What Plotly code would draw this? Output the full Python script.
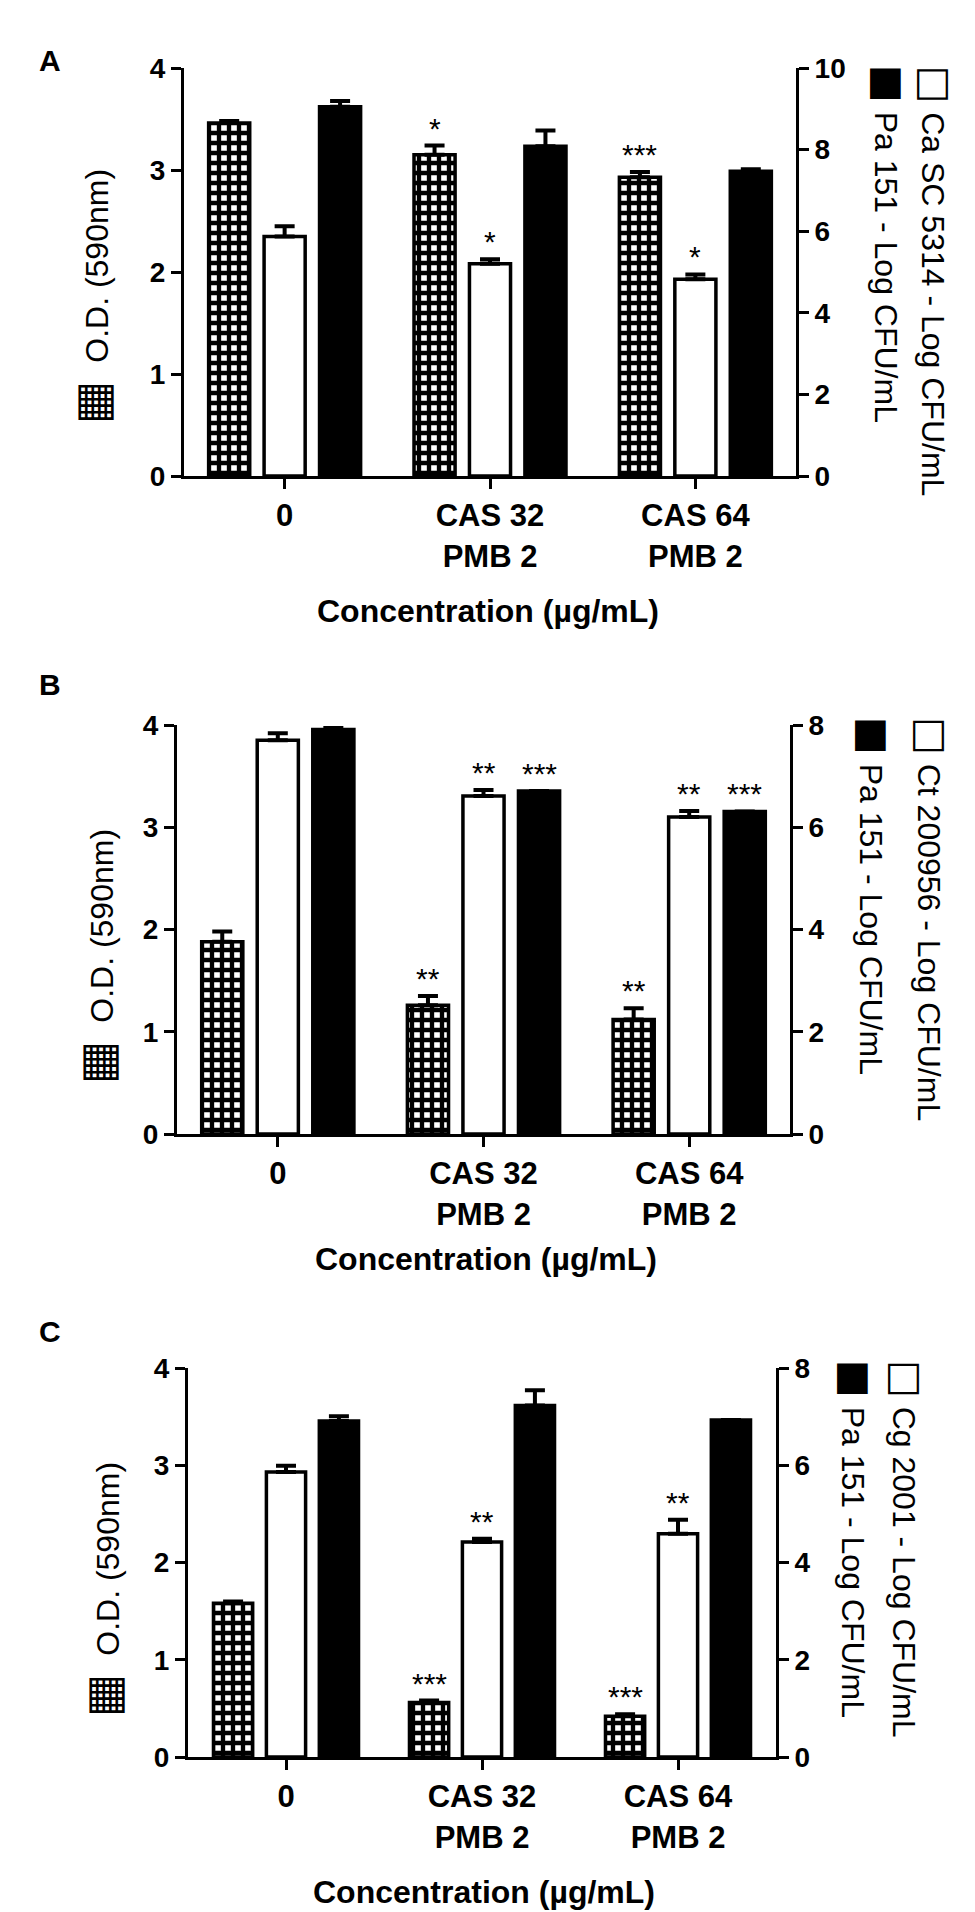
import plotly.graph_objects as go

W, H = 975, 1912

categories = ["0", "CAS 32<br>PMB 2", "CAS 64<br>PMB 2"]

# ---- Panel A ----
a_od = [3.46, 3.15, 2.93]
a_od_err = [0.02, 0.09, 0.05]
a_ca = [5.87, 5.20, 4.82]
a_ca_err = [0.25, 0.11, 0.12]
a_pa = [9.05, 8.08, 7.47]
a_pa_err = [0.14, 0.39, 0.05]
a_od_sig = ["", "*", "***"]
a_ca_sig = ["", "*", "*"]
a_pa_sig = ["", "", ""]

# ---- Panel B ----
b_od = [1.88, 1.26, 1.12]
b_od_err = [0.10, 0.09, 0.11]
b_ct = [7.70, 6.61, 6.20]
b_ct_err = [0.14, 0.12, 0.12]
b_pa = [7.91, 6.71, 6.31]
b_pa_err = [0.03, 0.0, 0.0]
b_od_sig = ["", "**", "**"]
b_ct_sig = ["", "**", "**"]
b_pa_sig = ["", "***", "***"]

# ---- Panel C ----
c_od = [1.58, 0.56, 0.42]
c_od_err = [0.02, 0.02, 0.02]
c_cg = [5.86, 4.42, 4.59]
c_cg_err = [0.13, 0.07, 0.29]
c_pa = [6.91, 7.23, 6.93]
c_pa_err = [0.10, 0.31, 0.0]
c_od_sig = ["", "***", "***"]
c_cg_sig = ["", "**", "**"]
c_pa_sig = ["", "", ""]

left_title = "O.D. (590nm)"
x_title = "Concentration (µg/mL)"

panels = [
    dict(label="A", od=a_od, od_err=a_od_err, od_sig=a_od_sig,
         fu=a_ca, fu_err=a_ca_err, fu_sig=a_ca_sig,
         pa=a_pa, pa_err=a_pa_err, pa_sig=a_pa_sig,
         right_max=10, fu_name="Ca SC 5314 - Log CFU/mL", pa_name="Pa 151 - Log CFU/mL",
         box=(176, 788, 60, 468), xr=(-0.49, 2.49),
         lbl=(42, 52), ltitle=(84, 289), r1=(928, 55), r2=(881, 55), xt=(480, 603)),
    dict(label="B", od=b_od, od_err=b_od_err, od_sig=b_od_sig,
         fu=b_ct, fu_err=b_ct_err, fu_sig=b_ct_sig,
         pa=b_pa, pa_err=b_pa_err, pa_sig=b_pa_sig,
         right_max=8, fu_name="Ct 200956 - Log CFU/mL", pa_name="Pa 151 - Log CFU/mL",
         box=(169, 782, 717, 1126), xr=(-0.49, 2.49),
         lbl=(42, 676), ltitle=(89, 949), r1=(924, 707), r2=(866, 707), xt=(478, 1251)),
    dict(label="C", od=c_od, od_err=c_od_err, od_sig=c_od_sig,
         fu=c_cg, fu_err=c_cg_err, fu_sig=c_cg_sig,
         pa=c_pa, pa_err=c_pa_err, pa_sig=c_pa_sig,
         right_max=8, fu_name="Cg 2001 - Log CFU/mL", pa_name="Pa 151 - Log CFU/mL",
         box=(180, 768, 1360, 1749), xr=(-0.5, 2.5),
         lbl=(42, 1323), ltitle=(95, 1582), r1=(899, 1350), r2=(848, 1350), xt=(476, 1884)),
]

FONT = "Liberation Sans, Arial, DejaVu Sans, sans-serif"
BAR_W = 0.2
OFFS = [-0.37, -0.10, 0.17]   # left edges of checker / open / filled bars

fig = go.Figure()
layout = dict(
    width=W, height=H, margin=dict(l=0, r=0, t=0, b=0),
    paper_bgcolor="white", plot_bgcolor="white", showlegend=False,
    barmode="overlay", font=dict(family=FONT, color="black"),
)
annotations = []

def fx(p):
    return p / W

def fy(p):
    return 1 - p / H

xs = list(range(len(categories)))

checker = dict(shape="+", fgcolor="black", bgcolor="white", size=10, solidity=0.68, fillmode="replace")

for k, p in enumerate(panels):
    xa = "x" if k == 0 else f"x{k+1}"
    yl = "y" if k == 0 else f"y{2*k+1}"
    yr = f"y{2*k+2}"
    xkey = "xaxis" if k == 0 else f"xaxis{k+1}"
    ylkey = "yaxis" if k == 0 else f"yaxis{2*k+1}"
    yrkey = f"yaxis{2*k+2}"
    l, r, t, b = p["box"]

    series = [
        (p["od"], p["od_err"], p["od_sig"], yl, dict(color="white", pattern=checker)),
        (p["fu"], p["fu_err"], p["fu_sig"], yr, dict(color="white")),
        (p["pa"], p["pa_err"], p["pa_sig"], yr, dict(color="black")),
    ]
    for j, (vals, errs, sigs, yax, mk) in enumerate(series):
        mk = dict(mk)
        mk["line"] = dict(color="black", width=3.5)
        fig.add_trace(go.Bar(
            x=xs, y=vals, xaxis=xa, yaxis=yax,
            width=BAR_W, offset=OFFS[j], marker=mk,
            error_y=dict(type="data", array=errs, arrayminus=[0] * len(errs),
                         symmetric=False, color="black", thickness=4, width=10),
            hoverinfo="skip",
        ))
        for i, s in enumerate(sigs):
            if s:
                annotations.append(dict(
                    x=i + OFFS[j] + BAR_W / 2, y=vals[i] + errs[i],
                    xref=xa, yref=yax, text=s, showarrow=False,
                    xanchor="center", yanchor="bottom", yshift=-1,
                    font=dict(size=30, family=FONT, color="black"),
                ))

    axis_common = dict(showline=True, linewidth=3, linecolor="black",
                       ticks="outside", ticklen=10, tickwidth=3, tickcolor="black",
                       showgrid=False, zeroline=False, automargin=False)
    layout[xkey] = dict(axis_common, domain=[fx(l), fx(r)], anchor=yl,
                        range=list(p["xr"]), tickvals=xs, ticktext=categories,
                        tickfont=dict(size=31, family=FONT, color="black", weight="bold"),
                        ticklabelstandoff=0)
    layout[ylkey] = dict(axis_common, domain=[fy(b), fy(t)], anchor=xa,
                         range=[0, 4], dtick=1, side="left",
                         tickfont=dict(size=28, family=FONT, color="black", weight="bold"))
    layout[yrkey] = dict(axis_common, domain=[fy(b), fy(t)], anchor=xa,
                         overlaying=yl, side="right",
                         range=[0, p["right_max"]], dtick=2,
                         tickfont=dict(size=28, family=FONT, color="black", weight="bold"))

    # panel letter
    annotations.append(dict(x=fx(p["lbl"][0]), y=fy(p["lbl"][1]), xref="paper", yref="paper",
                            text="<b>" + p["label"] + "</b>", showarrow=False,
                            xanchor="center", yanchor="middle",
                            font=dict(size=30, family=FONT, color="black")))
    # left axis title with checker symbol
    annotations.append(dict(x=fx(p["ltitle"][0]), y=fy(p["ltitle"][1]), xref="paper", yref="paper",
                            text='<span style="font-size:46px;font-family:DejaVu Sans">▦</span>  ' + left_title,
                            textangle=-90, showarrow=False, xanchor="center", yanchor="middle",
                            font=dict(size=32, family=FONT, color="black")))
    # right axis titles (two lines)
    annotations.append(dict(x=fx(p["r1"][0]), y=fy(p["r1"][1]), xref="paper", yref="paper",
                            text='<span style="font-size:40px;font-family:DejaVu Sans">□</span> ' + p["fu_name"],
                            textangle=90, showarrow=False, xanchor="center", yanchor="top",
                            font=dict(size=32, family=FONT, color="black")))
    annotations.append(dict(x=fx(p["r2"][0]), y=fy(p["r2"][1]), xref="paper", yref="paper",
                            text='<span style="font-size:40px;font-family:DejaVu Sans">■</span> ' + p["pa_name"],
                            textangle=90, showarrow=False, xanchor="center", yanchor="top",
                            font=dict(size=32, family=FONT, color="black")))
    # x axis title
    annotations.append(dict(x=fx(p["xt"][0]), y=fy(p["xt"][1]), xref="paper", yref="paper",
                            text="<b>" + x_title + "</b>", showarrow=False,
                            xanchor="center", yanchor="middle",
                            font=dict(size=32, family=FONT, color="black")))

layout["annotations"] = annotations
fig.update_layout(**layout)
fig.write_html("out.html")
